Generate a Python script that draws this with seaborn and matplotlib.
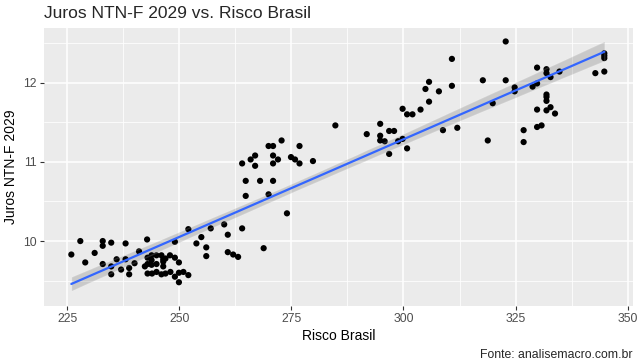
import numpy as np
import pandas as pd
import matplotlib
matplotlib.use("Agg")
import matplotlib.pyplot as plt
import seaborn as sns

# Risco Brasil (x) e Juros NTN-F 2029 (y)
risco = [225.9, 227.9, 229.0, 231.1, 232.9, 232.9, 234.8, 232.9, 234.8, 234.8,
         236.0, 237.0, 238.0, 238.0, 238.8, 238.8, 240.0, 241.0, 242.8, 242.9,
         242.9, 242.3, 243.8, 243.8, 243.8, 244.9, 244.9, 246.0, 246.4, 246.4,
         246.4, 246.9, 247.9, 249.0, 249.9, 242.9, 243.9, 244.9, 246.0, 246.9,
         248.0, 249.0, 249.9, 250.9, 249.9, 252.0, 249.0, 252.0, 253.8, 254.9,
         256.0, 256.0, 257.0, 260.0, 260.8, 260.8, 262.0, 263.1,
         264.0, 264.8, 264.8, 265.9, 266.9, 266.9, 268.0, 269.9, 270.9, 270.9,
         270.9, 272.0, 272.8, 270.9, 269.9, 274.0, 274.9, 275.8, 276.8, 276.8,
         279.8, 264.0, 268.8, 284.8, 291.8, 294.8, 294.8, 294.8, 295.8, 296.8,
         297.9, 296.8, 298.8, 299.8, 300.8, 299.8, 300.8, 302.0, 303.8, 304.9,
         305.7, 307.9, 305.7, 308.8,
         310.8, 310.8, 312.0, 317.7, 318.8, 319.9, 322.8, 322.8, 324.8, 324.8,
         326.8, 326.8, 328.8, 329.8, 329.8, 329.8, 329.8, 330.8, 331.9, 331.9,
         331.9, 331.9, 331.9, 331.9, 332.8, 332.8, 333.8, 334.8, 342.8, 344.8,
         344.8, 344.8, 344.8]
juros = [9.83, 10.00, 9.73, 9.85, 10.00, 9.94, 9.98, 9.71, 9.68, 9.58,
         9.77, 9.64, 9.97, 9.77, 9.66, 9.58, 9.72, 9.87, 10.02, 9.79,
         9.71, 9.68, 9.82, 9.76, 9.70, 9.82, 9.71, 9.82, 9.77, 9.74,
         9.68, 9.78, 9.82, 9.79, 9.73, 9.59, 9.59, 9.61, 9.58, 9.59,
         9.61, 9.55, 9.60, 9.61, 9.48, 9.57, 9.99, 10.15, 9.97, 10.05,
         9.92, 9.81, 10.16, 10.21, 10.08, 9.86, 9.83, 9.80,
         10.98, 10.76, 10.57, 11.03, 11.08, 10.95, 10.76, 11.20, 11.20, 11.08,
         10.98, 11.03, 11.27, 10.76, 10.59, 10.35, 11.06, 11.03, 11.20, 10.98,
         11.01, 10.16, 9.91, 11.46, 11.35, 11.48, 11.33, 11.27, 11.26, 11.39,
         11.39, 11.10, 11.26, 11.29, 11.17, 11.67, 11.60, 11.60, 11.66, 11.92,
         12.01, 11.89, 11.76, 11.40,
         12.30, 11.96, 11.43, 12.03, 11.27, 11.74, 12.52, 12.03, 11.94, 11.89,
         11.40, 11.25, 11.95, 12.19, 11.99, 11.66, 11.44, 11.46, 12.17, 12.12,
         11.85, 11.82, 11.77, 11.65, 12.07, 11.69, 11.61, 12.14, 12.12, 12.37,
         12.34, 12.31, 12.14]

x_ticks = [225, 250, 275, 300, 325, 350]
y_ticks = [10, 11, 12]

df = pd.DataFrame({"risco": risco, "juros": juros})

sns.set_theme(style="darkgrid", rc={
    "axes.facecolor": "#EBEBEB",
    "grid.color": "white",
    "axes.edgecolor": "#EBEBEB",
})
plt.rcParams["font.family"] = ["Liberation Sans", "DejaVu Sans"]

fig = plt.figure(figsize=(6.4, 3.64), dpi=100)
ax = fig.add_axes([44 / 640, 1 - 306 / 364, (633 - 44) / 640, (306 - 28) / 364])

sns.scatterplot(data=df, x="risco", y="juros", color="black", s=20,
                edgecolor="none", ax=ax, zorder=3)
# faixa de confianca cinza
sns.regplot(data=df, x="risco", y="juros", scatter=False, ci=95,
            color="#0a0a0a", line_kws={"alpha": 0}, ax=ax)
# linha de regressao
sns.regplot(data=df, x="risco", y="juros", scatter=False, ci=None,
            color="#3366FF", line_kws={"lw": 1.6}, ax=ax)
for c in ax.collections[1:]:
    c.set_zorder(4)
for l in ax.lines:
    l.set_zorder(5)

ax.set_xlim(219.8, 351.2)
ax.set_ylim(9.18, 12.69)
ax.set_xticks(x_ticks)
ax.set_yticks(y_ticks)
ax.set_xticks([237.5, 262.5, 287.5, 312.5, 337.5], minor=True)
ax.set_yticks([9.5, 10.5, 11.5, 12.5], minor=True)
ax.grid(which="major", color="white", lw=1.1)
ax.grid(which="minor", color="white", lw=0.55)
ax.tick_params(which="major", length=3, width=0.8, color="#333333",
               labelcolor="#4D4D4D", labelsize=8.8, pad=2, bottom=True, left=True)
ax.tick_params(which="minor", length=0)
for s in ax.spines.values():
    s.set_visible(False)

ax.set_xlabel("Risco Brasil", fontsize=10, color="black", labelpad=3)
ax.set_ylabel("Juros NTN-F 2029", fontsize=10, color="black", labelpad=4)
fig.text(44 / 640, 1 - 14 / 364, "Juros NTN-F 2029 vs. Risco Brasil",
         fontsize=12.5, ha="left", va="center")
fig.text(632 / 640, 1 - 355 / 364, "Fonte: analisemacro.com.br",
         fontsize=8.8, ha="right", va="center")

fig.savefig("out.png", dpi=100)
